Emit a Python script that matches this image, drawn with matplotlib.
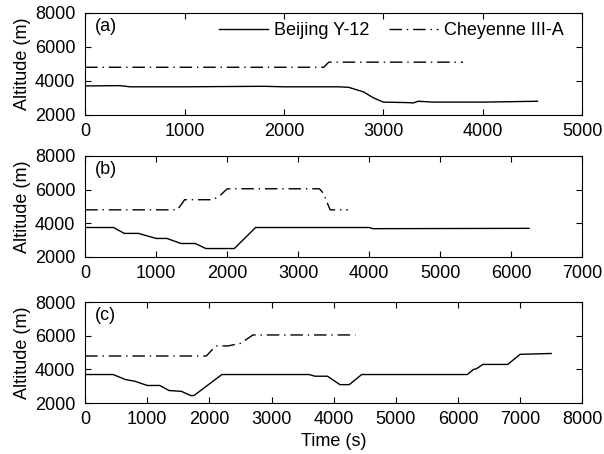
import numpy as np
import matplotlib.pyplot as plt

plt.rcParams['font.family'] = ['Liberation Sans', 'DejaVu Sans']
plt.rcParams['font.size'] = 13

# Panel (a)
a_bj_t = [0, 350, 450, 1000, 1800, 2000, 2550, 2650, 2800, 2900, 3000, 3250, 3300, 3350, 3500, 4000, 4550]
a_bj_h = [3700, 3720, 3650, 3650, 3680, 3650, 3650, 3620, 3350, 3000, 2750, 2720, 2700, 2800, 2750, 2750, 2800]
a_ch_t = [0, 2400, 2450, 3800]
a_ch_h = [4800, 4800, 5100, 5100]

# Panel (b)
b_bj_t = [0, 400, 550, 750, 1000, 1150, 1350, 1550, 1700, 2100, 2400, 4000, 4050, 6250]
b_bj_h = [3750, 3750, 3400, 3400, 3100, 3100, 2800, 2800, 2500, 2500, 3750, 3750, 3680, 3700]
b_ch_t = [0, 1300, 1400, 1800, 1900, 2000, 3300, 3350, 3450, 3700]
b_ch_h = [4800, 4800, 5400, 5400, 5650, 6050, 6050, 5800, 4800, 4800]

# Panel (c)
c_bj_t = [0, 450, 650, 800, 1000, 1200, 1350, 1550, 1700, 1750, 2200, 3600, 3700, 3900,
          4100, 4250, 4450, 6150, 6250, 6300, 6400, 6800, 7000, 7500]
c_bj_h = [3700, 3700, 3400, 3300, 3050, 3050, 2750, 2700, 2450, 2450, 3700, 3700, 3600, 3600,
          3100, 3100, 3700, 3700, 4000, 4050, 4300, 4300, 4900, 4950]
c_ch_t = [0, 1950, 2100, 2300, 2500, 2700, 4350]
c_ch_h = [4800, 4800, 5400, 5400, 5550, 6050, 6050]

panels = [
    ('(a)', a_bj_t, a_bj_h, a_ch_t, a_ch_h, 5000),
    ('(b)', b_bj_t, b_bj_h, b_ch_t, b_ch_h, 7000),
    ('(c)', c_bj_t, c_bj_h, c_ch_t, c_ch_h, 8000),
]

fig = plt.figure(figsize=(6.04, 4.54), dpi=100)
boxes = [(0.141, 0.747, 0.823, 0.2247),
         (0.141, 0.434, 0.823, 0.2225),
         (0.141, 0.112, 0.823, 0.2225)]

dashdot = (0, (9, 3.5, 1, 3.5))

for i, (tag, bt, bh, ct, chh, xmax) in enumerate(panels):
    ax = fig.add_axes(boxes[i])
    ax.plot(bt, bh, color='black', lw=1.0, label='Beijing Y-12')
    ax.plot(ct, chh, color='black', lw=1.0, linestyle=dashdot, label='Cheyenne III-A')
    ax.set_xlim(0, xmax)
    ax.set_ylim(2000, 8000)
    ax.set_yticks([2000, 4000, 6000, 8000])
    ax.set_xticks(np.arange(0, xmax + 1, 1000))
    ax.tick_params(axis='y', pad=7)
    ax.tick_params(axis='x', pad=6)
    ax.tick_params(direction='in', top=True, right=True, length=4, width=0.8)
    for s in ax.spines.values():
        s.set_linewidth(0.8)
    ax.set_ylabel('Altitude (m)', labelpad=3)
    ax.text(0.02, 0.95, tag, transform=ax.transAxes, va='top', ha='left')
    if i == 0:
        ax.legend(loc='upper right', ncol=2, frameon=False, handlelength=2.7,
                  columnspacing=1.1, handletextpad=0.35, borderaxespad=0.0,
                  bbox_to_anchor=(0.978, 0.98))
    if i == 2:
        ax.set_xlabel('Time (s)', labelpad=3)

fig.savefig('out.png', dpi=100)
